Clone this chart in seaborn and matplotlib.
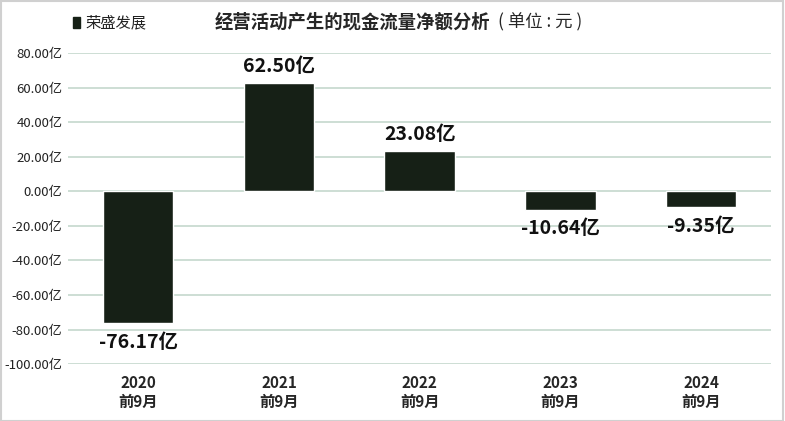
import pandas as pd
import matplotlib.pyplot as plt
import seaborn as sns

years = ["2020\n前9月", "2021\n前9月", "2022\n前9月", "2023\n前9月", "2024\n前9月"]
values = [-76.17, 62.50, 23.08, -10.64, -9.35]
yticks = [-100, -80, -60, -40, -20, 0, 20, 40, 60, 80]

sns.set_style("white")
plt.rcParams["font.family"] = ["Noto Sans CJK SC", "DejaVu Sans"]

df = pd.DataFrame({"period": years, "value": values})

fig = plt.figure(figsize=(7.85, 4.21), dpi=100)
ax = fig.add_axes([0.0866, 0.135, 0.896, 0.739])
bar_color = "#162016"
sns.barplot(data=df, x="period", y="value", color=bar_color, width=0.5,
            saturation=1, ax=ax, zorder=3)

ax.set_ylim(-100, 80)
ax.set_yticks(yticks)
ax.set_yticklabels([f"{v:.2f}亿" for v in yticks], fontsize=9.5, color="#222222")
ax.yaxis.grid(True, color="#c5d8cd", linewidth=1.2)
ax.set_axisbelow(True)
for s in ax.spines.values():
    s.set_visible(False)
ax.tick_params(axis="y", length=0, pad=4)
ax.tick_params(axis="x", length=0, pad=8)
for lbl in ax.get_xticklabels():
    lbl.set_fontweight("bold")
    lbl.set_fontsize(11)
ax.set_xlabel("")
ax.set_ylabel("")

for i, v in enumerate(values):
    ax.annotate(f"{v:.2f}亿", (i, v), xytext=(0, 5 if v >= 0 else -7),
                textcoords="offset points", ha="center",
                va="bottom" if v >= 0 else "top",
                fontsize=14, fontweight="bold", color="#111111")

fig.text(0.274, 0.948, "经营活动产生的现金流量净额分析", ha="left", va="center",
         fontsize=13.2, fontweight="bold")
fig.text(0.634, 0.948, "( 单位 : 元 )", ha="left", va="center", fontsize=12.5)
fig.patches.append(plt.Rectangle((0.093, 0.933), 0.009, 0.026, transform=fig.transFigure,
                                 color=bar_color, figure=fig))
fig.text(0.109, 0.945, "荣盛发展", ha="left", va="center", fontsize=11, color="#222222")
fig.patches.append(plt.Rectangle((0.001, 0.001), 0.997, 0.996, transform=fig.transFigure,
                                 fill=False, edgecolor="#d0d0d0", linewidth=1.5, figure=fig))

fig.savefig("out.png", dpi=100)
